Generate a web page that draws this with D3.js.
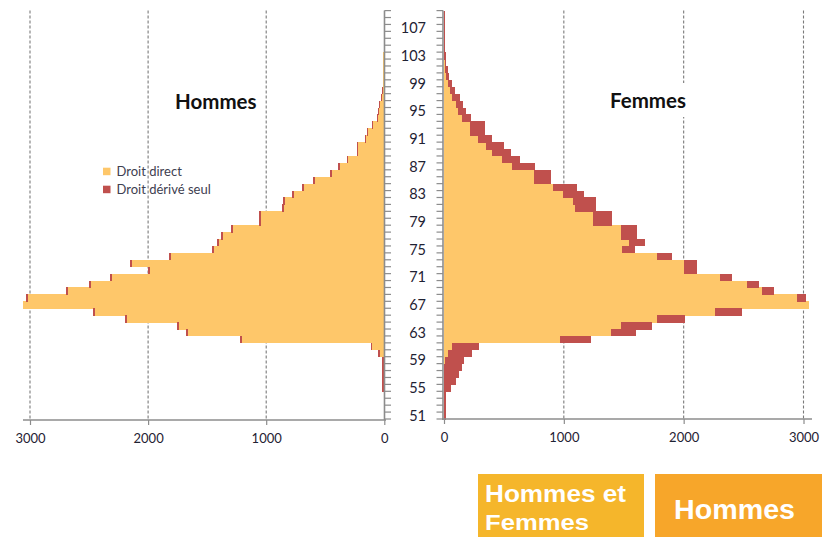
<!DOCTYPE html>
<html><head><meta charset="utf-8">
<script src="https://cdn.jsdelivr.net/npm/d3@7"></script>
<style>
html,body{margin:0;padding:0;background:#fff;}
svg{display:block;}
</style></head>
<body>
<svg id="chart" width="822" height="537"></svg>
<script>
const ages = [51,52,53,54,55,56,57,58,59,60,61,62,63,64,65,66,67,68,69,70,71,72,73,74,75,76,77,78,79,80,81,82,83,84,85,86,87,88,89,90,91,92,93,94,95,96,97,98,99,100,101,102,103,104,105,106,107,108,109];
const ageLabels = [51,55,59,63,67,71,75,79,83,87,91,95,99,103,107];
const hommesDirect = [0,0,0,0,0,0,0,0,0,35,100,1202,1665,1735,2178,2446,3062,3017,2680,2482,2305,1986,2135,1805,1438,1396,1367,1283,1042,1042,851,837,762,677,585,445,375,305,222,222,152,139,98,56,49,36,23,15,10,12,12,12,10,0,0,0,0,0,0];
const hommesDerive = [0,0,0,0,22,22,22,22,22,17,15,20,17,18,18,18,0,20,18,18,18,18,18,18,18,18,18,18,18,18,18,18,17,17,16,15,14,13,12,12,11,10,9,8,7,6,5,5,5,2,1,1,1,0,0,0,0,0,0];
const femmesDirect = [0,0,0,0,0,0,0,0,10,35,70,967,1392,1481,1778,2258,3050,2944,2656,2531,2300,2000,2000,1778,1489,1544,1475,1475,1244,1244,1092,1078,989,908,750,750,564,483,400,350,283,217,217,147,119,100,64,50,30,20,12,8,4,2,2,1,1,1,1];
const femmesDerive = [14,14,14,14,58,100,125,153,160,200,222,258,214,252,230,228,0,81,94,97,106,112,112,125,108,137,136,136,156,160,175,189,178,206,142,142,194,150,158,150,117,125,125,75,64,61,69,40,34,25,18,12,10,10,10,10,10,8,8];
const xTicks = [0,1000,2000,3000];
const seriesNames = ["Droit direct","Droit dérivé seul"];
const seriesColors = ["#FEC76A","#C0504D"];
const panelTitles = ["Hommes","Femmes"];

const svg = d3.select("#chart");
const font = "Lato, 'Open Sans', sans-serif";

const y = d3.scaleBand().domain(ages).range([419, 10.6]).paddingInner(0).paddingOuter(0);
const xL = d3.scaleLinear().domain([0,3000]).range([384.3, 30]);
const xR = d3.scaleLinear().domain([0,3000]).range([444, 803.5]);

// gridlines
function grid(xs, vals){
  svg.append("g").selectAll("line").data(vals).join("line")
    .attr("x1", d=>xs(d)).attr("x2", d=>xs(d))
    .attr("y1", 10.6).attr("y2", 419)
    .attr("stroke", "#7a7a7a").attr("stroke-width", 1.1)
    .attr("stroke-dasharray", "3,2");
}
grid(xL, [1000,2000,3000]);
grid(xR, [1000,2000,3000]);

// bars
function bars(xs, direct, derive){
  const g = svg.append("g").attr("shape-rendering","crispEdges");
  g.selectAll("rect.d").data(ages).join("rect").attr("class","d")
    .attr("x", (d,i)=>Math.min(xs(0), xs(direct[i])))
    .attr("width", (d,i)=>Math.abs(xs(direct[i])-xs(0)))
    .attr("y", d=>y(d)).attr("height", y.bandwidth()+0.5)
    .attr("fill", seriesColors[0]);
  g.selectAll("rect.r").data(ages).join("rect").attr("class","r")
    .attr("x", (d,i)=>Math.min(xs(direct[i]), xs(direct[i]+derive[i])))
    .attr("width", (d,i)=>Math.abs(xs(direct[i]+derive[i])-xs(direct[i])))
    .attr("y", d=>y(d)).attr("height", y.bandwidth()+0.5)
    .attr("fill", seriesColors[1]);
}
bars(xL, hommesDirect, hommesDerive);
bars(xR, femmesDirect, femmesDerive);

// vertical category axes
const axisColor = "#8c8c8c";
const bounds = ages.map(a=>y(a)).concat([y(ages[0])+y.bandwidth()]);
function vAxis(x0, dir){
  const g = svg.append("g");
  g.append("line").attr("x1",x0).attr("x2",x0).attr("y1",10.6).attr("y2",420)
    .attr("stroke",axisColor).attr("stroke-width",1.6);
  g.selectAll("line.t").data(bounds).join("line").attr("class","t")
    .attr("x1",x0).attr("x2",x0+dir*6.5)
    .attr("y1",d=>d).attr("y2",d=>d)
    .attr("stroke",axisColor).attr("stroke-width",1.2);
}
vAxis(384.5, 1);
vAxis(443, -1);

// age labels
svg.append("g").selectAll("text").data(ageLabels).join("text")
  .attr("x", 426).attr("y", d=>y(d)+y.bandwidth()/2)
  .attr("dy","0.36em").attr("text-anchor","end")
  .attr("font-family", font).attr("font-size", 14.5)
  .attr("fill","#1f2233").text(d=>d);

// bottom axes
function hAxis(xs, y0, x1, x2){
  const g = svg.append("g").attr("transform",`translate(0,${y0})`);
  const ax = d3.axisBottom(xs).tickValues(xTicks).tickFormat(d3.format("d")).tickSize(5).tickSizeOuter(0).tickPadding(9);
  g.call(ax);
  g.select(".domain").remove();
  g.append("line").attr("x1",x1).attr("x2",x2).attr("y1",0).attr("y2",0)
    .attr("stroke",axisColor).attr("stroke-width",1.6);
  g.selectAll(".tick line").attr("stroke",axisColor).attr("stroke-width",1.2);
  g.selectAll(".tick text").attr("font-family",font).attr("font-size",13).attr("fill","#1f2233");
}
hAxis(xL, 420, 23, 386);
hAxis(xR, 419, 442, 812);

// panel titles
svg.append("rect").attr("x",604).attr("y",83).attr("width",88).attr("height",34).attr("fill","#fff");
svg.append("text").attr("x",175).attr("y",108.5).attr("font-family",font).attr("font-weight","bold")
  .attr("font-size",20.5).attr("fill","#111").text(panelTitles[0]);
svg.append("text").attr("x",610).attr("y",107.5).attr("font-family",font).attr("font-weight","bold")
  .attr("font-size",20.5).attr("fill","#111").text(panelTitles[1]);

// legend
const lg = svg.append("g");
seriesNames.forEach((n,i)=>{
  lg.append("rect").attr("x",103).attr("y",167.7+i*18).attr("width",7.5).attr("height",7.5).attr("fill",seriesColors[i]);
  lg.append("text").attr("x",116.5).attr("y",176+i*18).attr("font-family",font).attr("font-size",13)
    .attr("fill","#404050").text(n);
});

// bottom boxes
svg.append("rect").attr("x",478).attr("y",474).attr("width",166).attr("height",63).attr("fill","#F5B62B");
svg.append("rect").attr("x",655).attr("y",474).attr("width",167).attr("height",63).attr("fill","#F7A62A");
const bf = "'Liberation Sans', Arial, sans-serif";
svg.append("text").attr("x",485).attr("y",502).attr("font-family",bf).attr("font-weight","bold").attr("font-size",23)
  .attr("textLength",141).attr("lengthAdjust","spacingAndGlyphs").attr("fill","#fff").text("Hommes et");
svg.append("text").attr("x",485).attr("y",530).attr("font-family",bf).attr("font-weight","bold").attr("font-size",22)
  .attr("textLength",104).attr("lengthAdjust","spacingAndGlyphs").attr("fill","#fff").text("Femmes");
svg.append("text").attr("x",674).attr("y",519).attr("font-family",bf).attr("font-weight","bold").attr("font-size",27.5)
  .attr("textLength",121).attr("lengthAdjust","spacingAndGlyphs").attr("fill","#fff").text("Hommes");
</script>
</body></html>
